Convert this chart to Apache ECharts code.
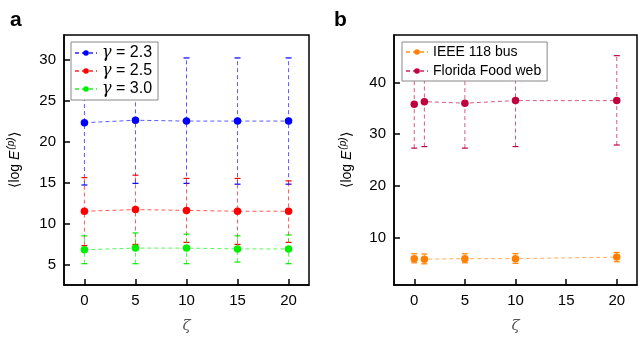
<!DOCTYPE html>
<html>
<head>
<meta charset="utf-8">
<script src="https://cdn.jsdelivr.net/npm/echarts@6/dist/echarts.min.js"></script>
<style>
  html, body { margin: 0; padding: 0; background: #fff; }
  #chart { width: 638px; height: 339px; }
</style>
</head>
<body>
<div id="chart"></div>
<script>
// panel a: different gamma
const zetaA = [0, 5, 10, 15, 20];
const g23Mean = [22.3, 22.6, 22.5, 22.5, 22.5];
const g23Low  = [14.7, 14.9, 14.9, 14.8, 14.8];
const g23High = [30.0, 30.3, 30.2, 30.2, 30.2];
const g25Mean = [11.5, 11.7, 11.6, 11.5, 11.5];
const g25Low  = [7.3, 7.45, 7.7, 7.45, 7.7];
const g25High = [15.6, 15.9, 15.5, 15.5, 15.2];
const g30Mean = [6.8, 7.0, 7.0, 6.9, 6.9];
const g30Low  = [5.1, 5.1, 5.1, 5.3, 5.1];
const g30High = [8.5, 8.85, 8.7, 8.5, 8.6];

// panel b: real networks
const zetaB = [0, 1, 5, 10, 20];
const ieeeMean = [5.9, 5.8, 5.9, 5.9, 6.2];
const ieeeLow  = [5.1, 4.9, 5.1, 5.0, 5.3];
const ieeeHigh = [6.85, 6.8, 6.85, 6.85, 7.1];
const floMean = [35.8, 36.3, 36.0, 36.5, 36.5];
const floLow  = [27.3, 27.6, 27.3, 27.6, 27.9];
const floHigh = [44.3, 45.0, 44.7, 45.4, 45.2];

const xTicks = [0, 5, 10, 15, 20];
const yTicksA = [5, 10, 15, 20, 25, 30];
const yTicksB = [10, 20, 30, 40];

const font = 'Liberation Sans, Arial, sans-serif';

const chart = echarts.init(document.getElementById('chart'));

// 点+虚线
function lineSeries(name, xs, ys, color, idx) {
    return {
        name: name,
        type: 'line',
        xAxisIndex: idx, yAxisIndex: idx,
        data: xs.map((x, i) => [x, ys[i]]),
        symbol: 'circle',
        symbolSize: 7.5,
        itemStyle: { color: color },
        lineStyle: { color: color, width: 1, type: [4, 3], opacity: 0.65 },
        z: 5
    };
}

// 误差棒：虚线竖线 + 实线端帽
function errSeries(xs, lo, hi, color, idx) {
    return {
        type: 'custom',
        xAxisIndex: idx, yAxisIndex: idx,
        data: xs.map((x, i) => [x, lo[i], hi[i]]),
        z: 3,
        silent: true,
        renderItem: (params, api) => {
            const p1 = api.coord([api.value(0), api.value(1)]);
            const p2 = api.coord([api.value(0), api.value(2)]);
            const w = 3;
            return {
                type: 'group',
                children: [
                    { type: 'line', shape: { x1: p1[0], y1: p1[1], x2: p2[0], y2: p2[1] },
                      style: { stroke: color, lineWidth: 1, lineDash: [4, 3], opacity: 0.65 } },
                    { type: 'line', shape: { x1: p1[0] - w, y1: p1[1], x2: p1[0] + w, y2: p1[1] },
                      style: { stroke: color, lineWidth: 1.2 } },
                    { type: 'line', shape: { x1: p2[0] - w, y1: p2[1], x2: p2[0] + w, y2: p2[1] },
                      style: { stroke: color, lineWidth: 1.2 } }
                ]
            };
        }
    };
}

function xAxis(idx) {
    return {
        type: 'value', gridIndex: idx, min: -2, max: 22,
        splitLine: { show: false },
        axisLine: { onZero: false, lineStyle: { color: '#000', width: 1.5 } },
        axisTick: { inside: true, length: 6, customValues: xTicks, lineStyle: { color: '#000', width: 1.5 } },
        axisLabel: { customValues: xTicks, color: '#000', fontSize: 15, fontFamily: font, margin: 8 },
        name: 'ζ', nameLocation: 'middle', nameGap: 34,
        nameTextStyle: { fontFamily: 'DejaVu Serif, serif', fontStyle: 'italic', fontSize: 15, color: '#555' }
    };
}

function yAxis(idx, min, max, ticks, gap) {
    return {
        type: 'value', gridIndex: idx, min: min, max: max,
        splitLine: { show: false },
        axisLine: { show: true, onZero: false, lineStyle: { color: '#000', width: 1.5 } },
        axisTick: { show: true, inside: true, length: 6, customValues: ticks, lineStyle: { color: '#000', width: 1.5 } },
        axisLabel: { customValues: ticks, color: '#000', fontSize: 15, fontFamily: font, margin: 8 },
        name: '⟨log {e|E}{s|(p)}⟩', nameLocation: 'middle', nameRotate: 90, nameGap: gap,
        nameTextStyle: {
            fontFamily: font, fontSize: 14, color: '#000',
            rich: {
                e: { fontFamily: font, fontStyle: 'italic', fontSize: 14, color: '#000' },
                s: { fontFamily: font, fontStyle: 'italic', fontSize: 10, color: '#000', verticalAlign: 'top', padding: [0, 0, 8, 1] }
            }
        }
    };
}

function legend(left, names, size, gap, rich) {
    return {
        show: true,
        left: left, top: 42,
        orient: 'vertical',
        data: names,
        backgroundColor: '#fff',
        borderColor: '#888',
        borderWidth: 1,
        borderRadius: 0,
        padding: [3, 6, 3, 3],
        itemWidth: 22, itemHeight: 7, itemGap: gap,
        textStyle: { fontFamily: font, fontSize: size, lineHeight: size, color: '#000', rich: rich },
        formatter: rich ? (n) => '{g|γ}' + n.slice(1) : undefined,
        z: 20
    };
}

const blue = '#0000ff', red = '#ff0000', green = '#00ee00';
const orange = '#ff8000', crimson = '#c2003d';

chart.setOption({
    animation: false,
    backgroundColor: '#fff',
    grid: [
        { left: 64, top: 35, width: 245, height: 257, show: true, borderColor: '#000', borderWidth: 1.5 },
        { left: 394, top: 35, width: 243, height: 257, show: true, borderColor: '#000', borderWidth: 1.5 }
    ],
    xAxis: [xAxis(0), xAxis(1)],
    yAxis: [yAxis(0, 2.5, 33, yTicksA, 40), yAxis(1, 0.8, 49.2, yTicksB, 38)],
    legend: [
        legend(71, ['γ = 2.3', 'γ = 2.5', 'γ = 3.0'], 16, 2,
            { g: { fontFamily: 'DejaVu Serif, serif', fontStyle: 'italic', fontSize: 16, lineHeight: 16, color: '#000' } }),
        legend(402, ['IEEE 118 bus', 'Florida Food web'], 14, 5, null)
    ],
    graphic: [
        { type: 'text', left: 10, top: 10, style: { text: 'a', fontFamily: font, fontWeight: 'bold', fontSize: 21, fill: '#000' } },
        { type: 'text', left: 334, top: 10, style: { text: 'b', fontFamily: font, fontWeight: 'bold', fontSize: 21, fill: '#000' } }
    ],
    series: [
        errSeries(zetaA, g23Low, g23High, blue, 0),
        errSeries(zetaA, g25Low, g25High, red, 0),
        errSeries(zetaA, g30Low, g30High, green, 0),
        lineSeries('γ = 2.3', zetaA, g23Mean, blue, 0),
        lineSeries('γ = 2.5', zetaA, g25Mean, red, 0),
        lineSeries('γ = 3.0', zetaA, g30Mean, green, 0),
        errSeries(zetaB, ieeeLow, ieeeHigh, orange, 1),
        errSeries(zetaB, floLow, floHigh, crimson, 1),
        lineSeries('IEEE 118 bus', zetaB, ieeeMean, orange, 1),
        lineSeries('Florida Food web', zetaB, floMean, crimson, 1)
    ]
});
</script>
</body>
</html>
